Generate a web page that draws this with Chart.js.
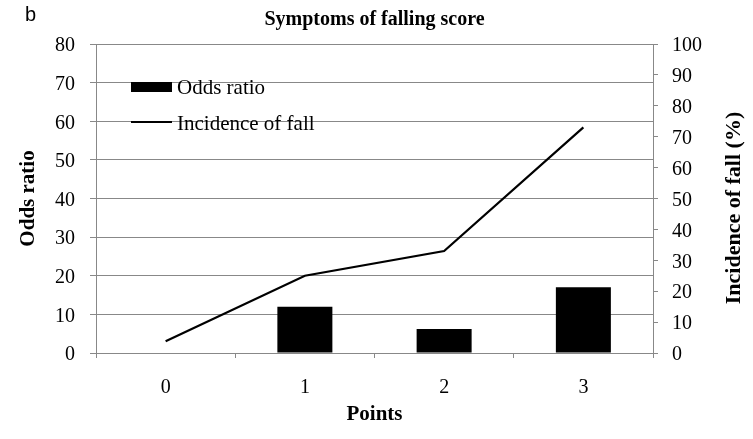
<!DOCTYPE html>
<html><head><meta charset="utf-8">
<script src="https://cdn.jsdelivr.net/npm/chart.js@4"></script>
<style>html,body{margin:0;padding:0;background:#fff}</style>
</head><body>
<canvas id="c" width="753" height="439"></canvas>
<script>
const categories = ['0', '1', '2', '3'];
const oddsRatio = [0, 12, 6.2, 17];
const incidenceOfFall = [3.8, 25, 33, 73];
const leftAxis = { min: 0, max: 80, step: 10 };
const rightAxis = { min: 0, max: 100, step: 10 };
const chartTitle = 'Symptoms of falling score';
const panelLetter = 'b';
const xTitle = 'Points';
const yTitle = 'Odds ratio';
const y1Title = 'Incidence of fall (%)';
const seriesNames = ['Odds ratio', 'Incidence of fall'];

const SERIF = "'Liberation Serif', 'Times New Roman', serif";
const GRID = '#888888';

const textPlugin = {
  id: 'texts',
  afterDraw(chart) {
    const ctx = chart.ctx;
    const ca = chart.chartArea;
    ctx.save();
    ctx.fillStyle = '#000';
    ctx.textBaseline = 'alphabetic';
    // panel letter
    ctx.font = "20px 'Liberation Sans', Arial, sans-serif";
    ctx.textAlign = 'left';
    ctx.fillText(panelLetter, 25, 21);
    // title
    ctx.font = 'bold 20px ' + SERIF;
    ctx.textAlign = 'center';
    ctx.fillText(chartTitle, (ca.left + ca.right) / 2, 25);
    // x title
    ctx.font = 'bold 21px ' + SERIF;
    ctx.fillText(xTitle, (ca.left + ca.right) / 2, 420);
    // y titles (both read bottom-to-top)
    ctx.save();
    ctx.translate(34, (ca.top + ca.bottom) / 2);
    ctx.rotate(-Math.PI / 2);
    ctx.fillText(yTitle, 0, 0);
    ctx.restore();
    ctx.font = 'bold 22px ' + SERIF;
    ctx.save();
    ctx.translate(740, 208);
    ctx.rotate(-Math.PI / 2);
    ctx.fillText(y1Title, 0, 0);
    ctx.restore();
    // legend
    ctx.font = '21px ' + SERIF;
    ctx.textAlign = 'left';
    ctx.textBaseline = 'middle';
    ctx.fillRect(131, 82, 41, 10);
    ctx.fillText(seriesNames[0], 177, 88);
    ctx.strokeStyle = '#000';
    ctx.lineWidth = 2;
    ctx.beginPath();
    ctx.moveTo(131, 122);
    ctx.lineTo(172, 122);
    ctx.stroke();
    ctx.fillText(seriesNames[1], 177, 124);
    ctx.restore();
  }
};

new Chart(document.getElementById('c'), {
  data: {
    labels: categories,
    datasets: [
      {
        type: 'line',
        label: seriesNames[1],
        data: incidenceOfFall,
        yAxisID: 'y1',
        borderColor: '#000',
        borderWidth: 2.2,
        pointRadius: 0,
        tension: 0,
        fill: false,
        order: 0
      },
      {
        type: 'bar',
        label: seriesNames[0],
        data: oddsRatio,
        yAxisID: 'y',
        backgroundColor: '#000',
        borderWidth: 0,
        barPercentage: 0.395,
        categoryPercentage: 1,
        order: 1
      }
    ]
  },
  options: {
    responsive: false,
    animation: false,
    layout: { padding: { top: 44, left: 0, right: 0, bottom: 0 } },
    plugins: { legend: { display: false }, title: { display: false }, tooltip: { enabled: false } },
    scales: {
      x: {
        type: 'category',
        offset: true,
        afterFit(s) { s.height = 86; },
        grid: { offset: true, drawOnChartArea: false, drawTicks: true, tickLength: 5, color: GRID },
        border: { display: true, color: GRID },
        ticks: { color: '#000', font: { family: SERIF, size: 20 }, padding: 18, maxRotation: 0 }
      },
      y: {
        position: 'left',
        min: leftAxis.min, max: leftAxis.max,
        afterFit(s) { s.width = 96; },
        grid: { drawOnChartArea: true, drawTicks: true, tickLength: 6, color: GRID },
        border: { display: true, color: GRID },
        ticks: { stepSize: leftAxis.step, color: '#000', font: { family: SERIF, size: 20 }, padding: 15, labelOffset: 2 }
      },
      y1: {
        position: 'right',
        min: rightAxis.min, max: rightAxis.max,
        afterFit(s) { s.width = 100; },
        grid: { drawOnChartArea: false, drawTicks: true, tickLength: 5, color: GRID },
        border: { display: true, color: GRID },
        ticks: { stepSize: rightAxis.step, color: '#000', font: { family: SERIF, size: 20 }, padding: 14, labelOffset: 2 }
      }
    }
  },
  plugins: [textPlugin]
});
</script>
</body></html>
